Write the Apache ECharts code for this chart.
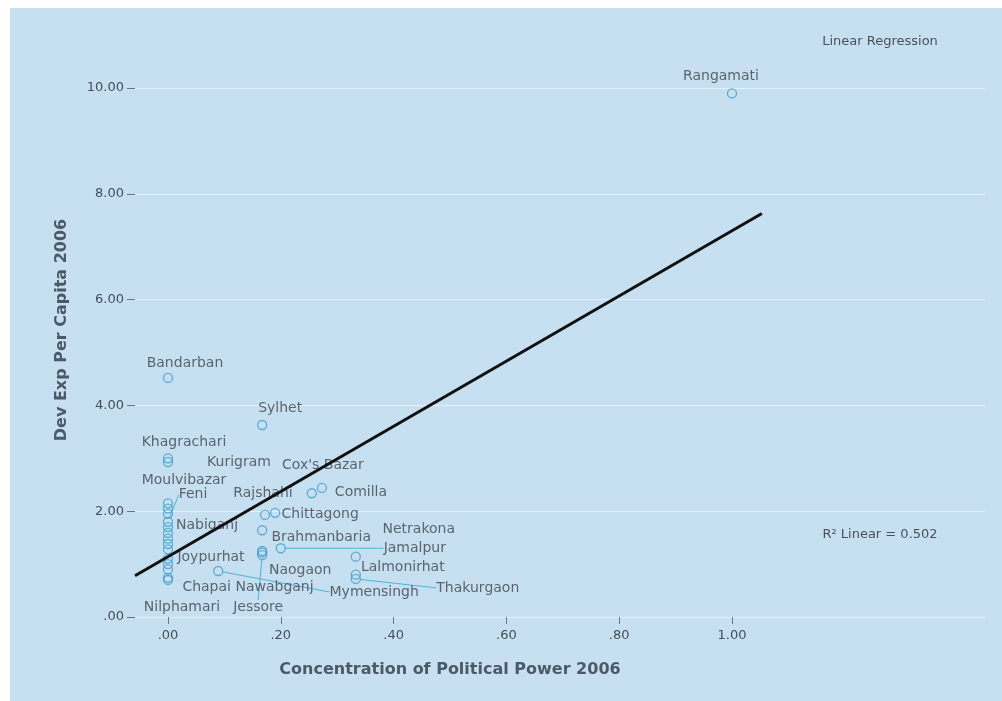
<!DOCTYPE html>
<html><head><meta charset="utf-8">
<script src="https://cdn.jsdelivr.net/npm/echarts@6/dist/echarts.min.js"></script>
<style>html,body{margin:0;padding:0;background:#fff}#c{width:1002px;height:701px}</style>
</head><body><div id="c"></div>
<script>
// ---- data ----
const districts = ['Rangamati','Bandarban','Sylhet','Khagrachari','Kurigram',"Cox's Bazar",'Comilla','Moulvibazar','Feni','Rajshahi','Chittagong','Nabiganj','Brahmanbaria','Netrakona','Jamalpur','Joypurhat','Naogaon','Lalmonirhat','Chapai Nawabganj','Mymensingh','Thakurgaon','Nilphamari','Jessore'];
const powerConc = [1.00,0.00,0.167,0.00,0.00,0.255,0.273,0.00,0.00,0.172,0.19,0.00,0.167,0.333,0.20,0.00,0.167,0.333,0.00,0.089,0.333,0.00,0.167];
const devExp    = [9.90,4.52,3.63,3.00,2.93,2.34,2.44,2.15,1.80,1.93,1.97,1.59,1.64,1.14,1.30,1.10,1.25,0.80,0.74,0.87,0.72,0.70,1.17];
const otherPower = [0.00,0.00,0.00,0.00,0.00,0.00,0.00,0.00,0.167];
const otherDevExp = [2.05,1.95,1.70,1.48,1.38,1.28,1.00,0.90,1.22];
const xTicks = [0,0.2,0.4,0.6,0.8,1.0];
const yTicks = [0,2,4,6,8,10];
const fitX = [-0.0585,1.053];
const fitY = [0.78,7.63];
const rSquaredText = 'R\u00b2 Linear = 0.502';
const legendText = 'Linear Regression';
const xTitle = 'Concentration of Political Power 2006';
const yTitle = 'Dev Exp Per Capita 2006';

// ---- label placement (styling, pixel offsets of label centre from point) ----
const labelOffsets = [[-11,-17],[17,-15],[18,-17],[16,-16],[71,0],[11,-28],[39,4],[16,-23],[25,-27],[-2,-22],[45,2],[39,-8],[59,7],[63,-27],[134,0],[43,-1],[38,19],[47,-7],[80,9],[156,21],[122,9],[14,27],[-4,52]];
const leaderLines = [false,false,false,false,false,false,false,false,true,false,false,false,false,false,true,false,false,false,false,true,true,false,true];

const fmt = v => { const s = Number(v).toFixed(2); return s.startsWith('0.') ? s.slice(1) : s; };
const ptColor = '#3f9fc9';
const txtColor = '#3f454d';
const font = 'DejaVu Sans';

const chart = echarts.init(document.getElementById('c'), null, {renderer:'canvas'});
chart.setOption({
  animation:false,
  backgroundColor:'#c6e0f1',
  grid:{left:135,right:17,top:22,bottom:84},
  xAxis:{type:'value',min:-0.0585,max:1.4486,
    axisLine:{show:false,onZero:false},
    axisTick:{show:true,length:7,customValues:xTicks,lineStyle:{color:'#6b7580'}},
    axisLabel:{customValues:xTicks,formatter:fmt,color:'#454e59',fontFamily:font,fontSize:13,margin:12},
    splitLine:{show:false}},
  yAxis:{type:'value',min:0,max:11.25,
    axisLine:{show:false,onZero:false},
    axisTick:{show:true,length:8,customValues:yTicks,lineStyle:{color:'#6b7580'}},
    axisLabel:{customValues:yTicks,formatter:fmt,color:'#454e59',fontFamily:font,fontSize:13,margin:11},
    splitLine:{show:true,lineStyle:{color:'rgba(255,255,255,0.55)',width:1}}},
  graphic:[
    {type:'rect',shape:{x:0,y:0,width:10,height:701},style:{fill:'#ffffff'},silent:true},
    {type:'rect',shape:{x:0,y:0,width:1002,height:8},style:{fill:'#ffffff'},silent:true},
    {type:'text',x:450,y:670,style:{text:xTitle,font:'bold 16px "DejaVu Sans"',fill:'#4c5968',align:'center',verticalAlign:'middle'}},
    {type:'text',x:62,y:330,rotation:Math.PI/2,style:{text:yTitle,font:'bold 16px "DejaVu Sans"',fill:'#4c5968',align:'center',verticalAlign:'middle'}},
    {type:'text',x:880,y:42,style:{text:legendText,font:'13px "DejaVu Sans"',fill:'#4a515a',align:'center',verticalAlign:'middle'}},
    {type:'text',x:880,y:535,style:{text:rSquaredText,font:'13px "DejaVu Sans"',fill:'#4a515a',align:'center',verticalAlign:'middle'}}
  ],
  series:[
    {type:'scatter',z:2,symbol:'circle',symbolSize:9,
      itemStyle:{color:'rgba(0,0,0,0)',borderColor:ptColor,borderWidth:1.3},
      data:otherPower.map((x,i)=>[x,otherDevExp[i]])},
    {type:'scatter',z:3,symbol:'circle',symbolSize:9,
      itemStyle:{color:'rgba(0,0,0,0)',borderColor:ptColor,borderWidth:1.3},
      label:{show:true,position:'inside',formatter:'{b}',color:txtColor,fontFamily:font,fontSize:14},
      labelLine:{show:false,lineStyle:{color:'#52b3d9',width:1}},
      labelLayout:p=>({dx:labelOffsets[p.dataIndex][0],dy:labelOffsets[p.dataIndex][1]}),
      data:districts.map((n,i)=>({name:n,value:[powerConc[i],devExp[i]],labelLine:{show:leaderLines[i]}}))},
    {type:'line',z:10,symbol:'none',silent:true,
      lineStyle:{color:'#111111',width:3},
      data:fitX.map((x,i)=>[x,fitY[i]])}
  ]
});
</script></body></html>
